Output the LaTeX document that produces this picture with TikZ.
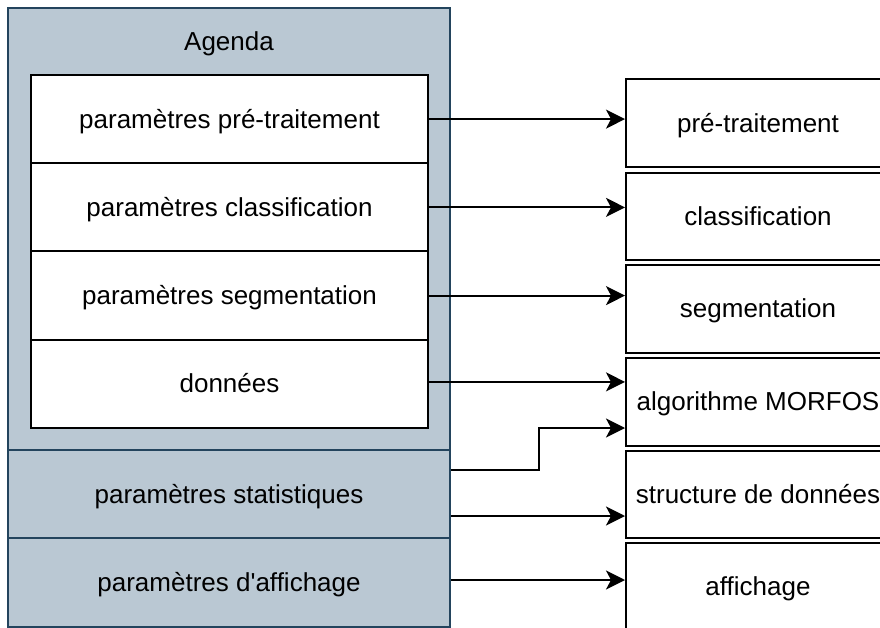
\documentclass[tikz,border=0pt]{standalone}
\usepackage{fontspec}
\setmainfont{Liberation Sans}[Ligatures=TeXOff]
\usetikzlibrary{arrows.meta}
\definecolor{panelfill}{HTML}{BAC8D3}
\definecolor{paneldraw}{HTML}{23445D}
\begin{document}
\begin{tikzpicture}[x=1pt,y=-1pt,
  font=\fontsize{26}{31}\selectfont,
  every node/.style={text depth=1pt},
  panel/.style={draw=paneldraw, fill=panelfill, line width=2pt, rectangle, inner sep=0pt, minimum width=442pt},
  innerbox/.style={draw=black, fill=white, line width=2pt, rectangle, inner sep=0pt, minimum width=397pt, minimum height=88.3pt},
  rightbox/.style={draw=black, fill=white, line width=2pt, rectangle, inner sep=0pt, minimum width=264pt, minimum height=87.5pt},
  arr/.style={-{Stealth[length=19pt,width=19pt,inset=5pt]}, line width=2pt, draw=black}]
\clip (0,0) rectangle (880,628);
\fill[white] (0,0) rectangle (880,628);
% left panel
\node[panel, minimum height=442pt] (hd) at (229,229) {};
\node[anchor=center] (agenda) at (229,42) {Agenda};
\node[panel, minimum height=88pt] (st) at (229,494) {paramètres statistiques};
\node[panel, minimum height=89pt] (af) at (229,582.5) {paramètres d'affichage};
% inner boxes
\node[innerbox] (i1) at (229.5,119.1) {paramètres pré-traitement};
\node[innerbox] (i2) at (229.5,207.4) {paramètres classification};
\node[innerbox] (i3) at (229.5,295.6) {paramètres segmentation};
\node[innerbox] (i4) at (229.5,383.9) {données};
% right boxes
\node[rightbox] (r1) at (758,123) {pré-traitement};
\node[rightbox] (r2) at (758,216.5) {classification};
\node[rightbox] (r3) at (758,309) {segmentation};
\node[rightbox] (r4) at (758,402) {algorithme MORFOS};
\node[rightbox] (r5) at (758,494.5) {structure de données};
\node[rightbox] (r6) at (758,587) {affichage};
% arrows
\draw[arr] (i1.east) -- (i1.east -| r1.west);
\draw[arr] (i2.east) -- (i2.east -| r2.west);
\draw[arr] (i3.east) -- (i3.east -| r3.west);
\draw[arr] ([yshift=2pt]i4.east) -- ([yshift=2pt]i4.east -| r4.west);
\draw[arr] ([yshift=24pt]st.east) -- ++(88,0) |- ([yshift=-26pt]r4.west);
\draw[arr] ([yshift=-22pt]st.east) -- ([yshift=-22pt]st.east -| r5.west);
\draw[arr] ([yshift=2.5pt]af.east) -- ([yshift=2.5pt]af.east -| r6.west);
\end{tikzpicture}
\end{document}
